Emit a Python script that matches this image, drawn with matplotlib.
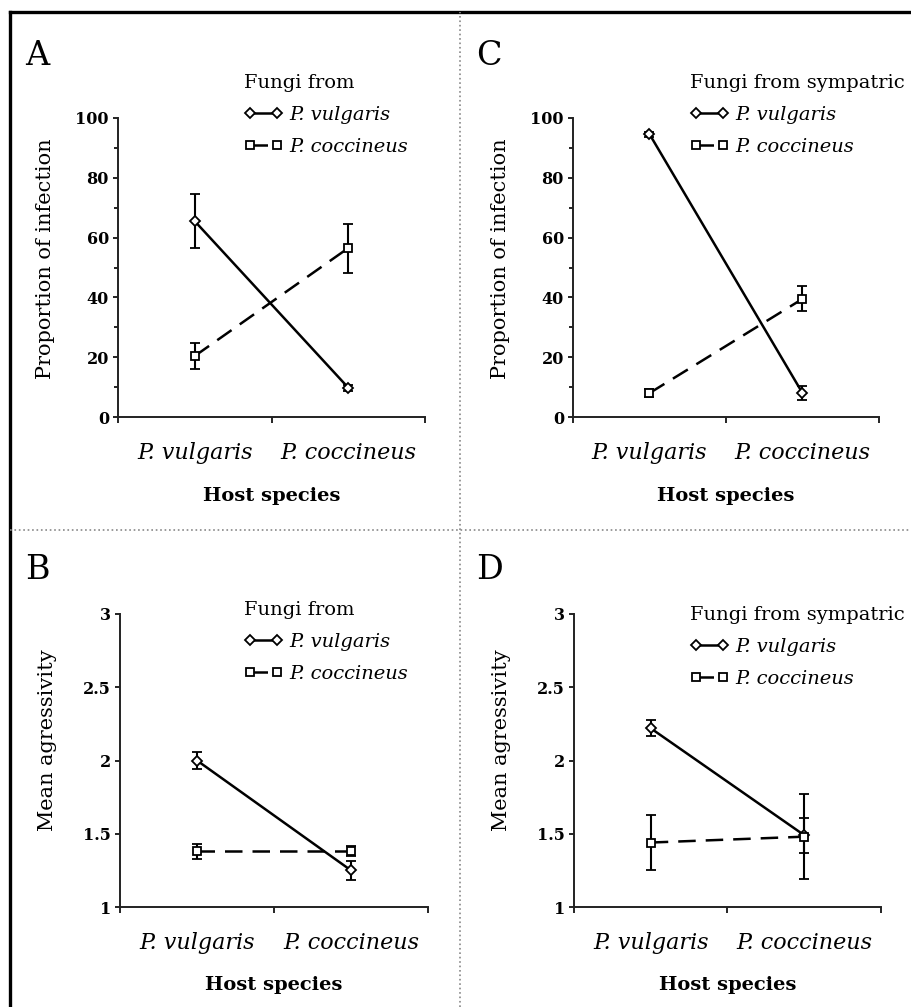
import numpy as np
import matplotlib.pyplot as plt
from matplotlib.lines import Line2D

plt.rcParams['font.family'] = ['DejaVu Serif']

hosts = ['P. vulgaris', 'P. coccineus']
series = ['P. vulgaris', 'P. coccineus']
xpos = [0.5, 1.5]

# panel A: proportion of infection, fungi from each host
a_vulg = [65.5, 9.8]
a_vulg_err = [9.0, 1.0]
a_cocc = [20.4, 56.5]
a_cocc_err = [4.2, 8.2]

# panel C: proportion of infection, fungi from sympatric sites
c_vulg = [94.6, 8.0]
c_vulg_err = [0.8, 2.3]
c_cocc = [8.0, 39.5]
c_cocc_err = [1.3, 4.2]

# panel B: mean agressivity
b_vulg = [2.0, 1.25]
b_vulg_err = [0.06, 0.065]
b_cocc = [1.38, 1.38]
b_cocc_err = [0.05, 0.035]

# panel D: mean agressivity, sympatric
d_vulg = [2.22, 1.49]
d_vulg_err = [0.055, 0.12]
d_cocc = [1.44, 1.48]
d_cocc_err = [0.19, 0.29]

W, H = 912, 1007
fig = plt.figure(figsize=(W / 100, H / 100), dpi=100)


def px(x0, y0, x1, y1):
    # pixel box -> figure fraction rect
    return [x0 / W, 1 - y1 / H, (x1 - x0) / W, (y1 - y0) / H]


def panel(rect, letter, letter_xy, vulg, verr, cocc, cerr, ylim, yticks, yticklabels,
          minor, ylabel, ylab_y, title, leg_xy):
    ax = fig.add_axes(px(*rect))
    e1 = ax.errorbar(xpos, vulg, yerr=verr, color='black', lw=1.8, marker='D', ms=5.5,
                     mfc='white', mec='black', mew=1.3, capsize=3.5, elinewidth=1.5,
                     capthick=1.5, zorder=3)
    e2 = ax.errorbar(xpos, cocc, yerr=cerr, color='black', lw=1.8, ls=(0, (7, 4)),
                     marker='s', ms=6, mfc='white', mec='black', mew=1.3, capsize=3.5,
                     elinewidth=1.5, capthick=1.5, zorder=3)
    ax.set_xlim(0, 2)
    ax.set_ylim(*ylim)
    for s in ['top', 'right']:
        ax.spines[s].set_visible(False)
    for s in ['left', 'bottom']:
        ax.spines[s].set_linewidth(1.4)
        ax.spines[s].set_color('#222222')
    ax.set_xticks([0, 1, 2], ['', '', ''])
    ax.set_xticks(xpos, hosts, minor=True)
    ax.tick_params(axis='x', which='major', length=4, width=1.2, direction='out')
    ax.tick_params(axis='x', which='minor', length=0, pad=18, labelsize=16)
    for t in ax.get_xticklabels(minor=True):
        t.set_fontstyle('italic')
    ax.set_yticks(yticks, yticklabels)
    for t in ax.get_yticklabels():
        t.set_fontweight('bold')
    if minor is not None:
        ax.set_yticks(minor, minor=True)
    ax.tick_params(axis='y', which='major', length=3.5, width=1.2, labelsize=11.5, pad=3)
    ax.tick_params(axis='y', which='minor', length=3, width=1.2)
    ax.set_ylabel(ylabel, fontsize=15)
    ax.yaxis.set_label_coords(-0.205, ylab_y)
    ax.set_xlabel('Host species', fontsize=14, fontweight='bold')
    ax.xaxis.set_label_coords(0.5, -0.235)
    ax.patch.set_alpha(0)

    fig.text(letter_xy[0] / W, 1 - letter_xy[1] / H, letter, fontsize=24,
             ha='left', va='baseline')

    ax.legend([e1[0], e2[0]], series, title=title, loc='upper left',
              bbox_to_anchor=(leg_xy[0] / W, 1 - leg_xy[1] / H),
              bbox_transform=fig.transFigure, frameon=False, borderpad=0,
              borderaxespad=0, numpoints=2, handlelength=2.0, handletextpad=0.35,
              labelspacing=0.72, alignment='left',
              prop={'style': 'italic', 'size': 14}, title_fontsize=14)
    return ax


panel((118, 118, 425, 417), 'A', (25, 65), a_vulg, a_vulg_err, a_cocc, a_cocc_err,
      (0, 100), [0, 20, 40, 60, 80, 100], ['0', '20', '40', '60', '80', '100'],
      [10, 30, 50, 70, 90], 'Proportion of infection', 0.53, 'Fungi from', (244, 74))
panel((573, 118, 879, 417), 'C', (476, 65), c_vulg, c_vulg_err, c_cocc, c_cocc_err,
      (0, 100), [0, 20, 40, 60, 80, 100], ['0', '20', '40', '60', '80', '100'],
      [10, 30, 50, 70, 90], 'Proportion of infection', 0.53, 'Fungi from sympatric',
      (690, 74))
panel((120, 614, 428, 907), 'B', (25, 579), b_vulg, b_vulg_err, b_cocc, b_cocc_err,
      (1, 3), [1, 1.5, 2, 2.5, 3], ['1', '1.5', '2', '2.5', '3'],
      None, 'Mean agressivity', 0.57, 'Fungi from', (244, 601))
panel((574, 614, 881, 907), 'D', (476, 579), d_vulg, d_vulg_err, d_cocc, d_cocc_err,
      (1, 3), [1, 1.5, 2, 2.5, 3], ['1', '1.5', '2', '2.5', '3'],
      None, 'Mean agressivity', 0.57, 'Fungi from sympatric', (690, 606))

# frame and panel dividers
fig.add_artist(Line2D([10 / W, 1], [1 - 12 / H] * 2, color='black', lw=2.4))
fig.add_artist(Line2D([10 / W] * 2, [0, 1 - 12 / H], color='black', lw=2.4))
fig.add_artist(Line2D([460 / W] * 2, [0, 1 - 12 / H], color='#888888', lw=1.2, ls=':'))
fig.add_artist(Line2D([10 / W, 1], [1 - 530 / H] * 2, color='#888888', lw=1.2, ls=':'))

fig.savefig('out.png', dpi=100, facecolor='white')
